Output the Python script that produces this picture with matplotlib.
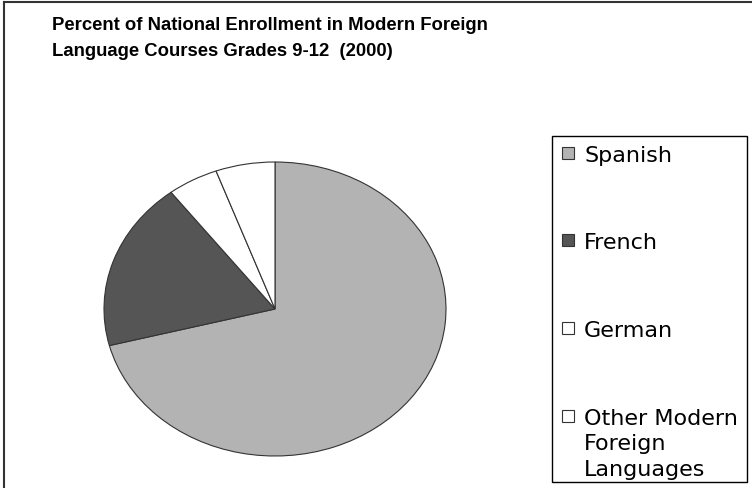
import matplotlib
matplotlib.use("Agg")
import matplotlib.pyplot as plt
from matplotlib.patches import Rectangle
from matplotlib.lines import Line2D

# Data
categories = ["Spanish", "French", "German", "Other Modern\nForeign\nLanguages"]
values = [71.0, 18.6, 4.8, 5.6]
colors = ["#b3b3b3", "#555555", "#ffffff", "#ffffff"]
title_lines = ["Percent of National Enrollment in Modern Foreign",
               "Language Courses Grades 9-12  (2000)"]

W, H = 752, 489
fig = plt.figure(figsize=(W / 100, H / 100), dpi=100)
plt.rcParams['font.family'] = ['Liberation Sans', 'DejaVu Sans']

def fx(px):
    return px / W

def fy(py):
    return 1 - py / H

# Pie axes: ellipse spanning x 104..446, y 163..457
left, right, top, bottom = 104, 446, 163, 457
ax = fig.add_axes([fx(left), fy(bottom), fx(right - left), (bottom - top) / H])
wedges, _ = ax.pie(values, colors=colors, startangle=90, counterclock=False,
                   wedgeprops=dict(edgecolor="#333333", linewidth=0.8))
ax.set_aspect('auto')
ax.set_xlim(-1, 1)
ax.set_ylim(-1, 1)
ax.axis('off')

# Title
for line, yy in zip(title_lines, [25, 52]):
    fig.text(fx(52), fy(yy), line, fontsize=13.3, fontweight='bold',
             ha='left', va='center', family=['Liberation Sans', 'DejaVu Sans'])

# Figure border (left and top)
fig.add_artist(Line2D([fx(4), fx(4)], [0, fy(3)], color="#333333", linewidth=1.5))
fig.add_artist(Line2D([fx(4), 1], [fy(3), fy(3)], color="#333333", linewidth=1.5))

# Legend box
lx0, lx1, ly0, ly1 = 552, 747, 137, 483
fig.add_artist(Rectangle((fx(lx0), fy(ly1)), fx(lx1 - lx0), (ly1 - ly0) / H,
                         fill=False, edgecolor="black", linewidth=1.0))
entry_y = [154, 241, 329, 417]
sq = 12
line_px = 25.5
for cat, col, yy in zip(categories, colors, entry_y):
    fig.add_artist(Rectangle((fx(562), fy(yy + sq / 2)), fx(sq), sq / H,
                             facecolor=col, edgecolor="#333333", linewidth=0.8))
    extra = (cat.count("\n")) * line_px
    fig.text(fx(584), fy(yy + 8 + extra), cat, fontsize=16, ha='left', va='baseline',
             linespacing=1.35, family=['DejaVu Sans'])

fig.savefig("out.png", dpi=100)
